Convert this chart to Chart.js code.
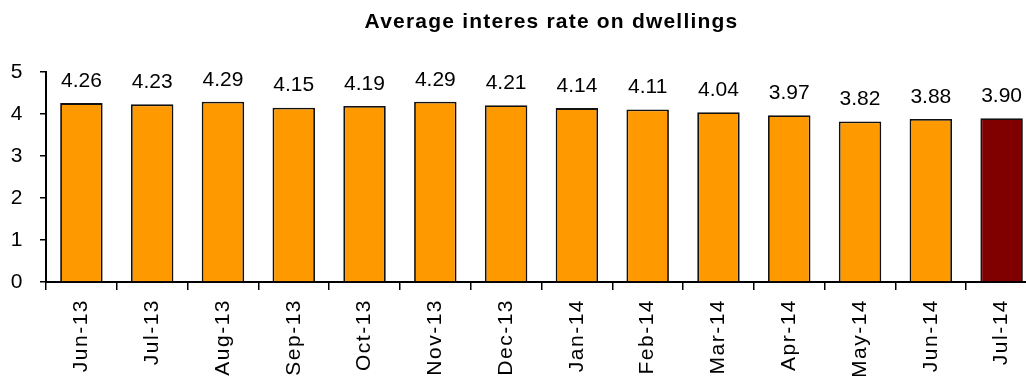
<!DOCTYPE html>
<html>
<head>
<meta charset="utf-8">
<script src="https://cdn.jsdelivr.net/npm/chart.js@4.4.1/dist/chart.umd.min.js"></script>
<style>
  html, body { margin: 0; padding: 0; background: #fff; overflow: hidden; width: 1026px; height: 376px; }
  #wrap { position: relative; width: 1040px; height: 376px; }
</style>
</head>
<body>
<div id="wrap"><canvas id="c"></canvas></div>
<script>
// Monthly average interest rate on dwelling loans (%)
const months = ['Jun-13', 'Jul-13', 'Aug-13', 'Sep-13', 'Oct-13', 'Nov-13', 'Dec-13',
                'Jan-14', 'Feb-14', 'Mar-14', 'Apr-14', 'May-14', 'Jun-14', 'Jul-14'];
const rates = [4.26, 4.23, 4.29, 4.15, 4.19, 4.29, 4.21, 4.14, 4.11, 4.04, 3.97, 3.82, 3.88, 3.90];
const yTicks = [0, 1, 2, 3, 4, 5];
const chartTitle = 'Average interes rate on dwellings';

const FONT = '"Liberation Sans", Arial, sans-serif';
const barColor = '#FF9900';
const latestColor = '#800000';

// Wider glyph spacing for the axis tick labels
const textSpacing = {
  id: 'textSpacing',
  beforeUpdate(chart) { chart.ctx.letterSpacing = '1.5px'; },
  beforeDraw(chart) { chart.ctx.letterSpacing = '1.5px'; }
};

// Title above the plot
const titleText = {
  id: 'titleText',
  afterDraw(chart) {
    const ctx = chart.ctx;
    const a = chart.chartArea;
    ctx.save();
    ctx.letterSpacing = '1.2px';
    ctx.font = 'bold 21px ' + FONT;
    ctx.fillStyle = '#000';
    ctx.textAlign = 'center';
    ctx.textBaseline = 'alphabetic';
    ctx.fillText(chartTitle, (a.left + a.right) / 2 + 10, 28);
    ctx.restore();
  }
};

// Value labels above each bar
const valueLabels = {
  id: 'valueLabels',
  afterDatasetsDraw(chart) {
    const ctx = chart.ctx;
    const meta = chart.getDatasetMeta(0);
    ctx.save();
    ctx.letterSpacing = '0px';
    ctx.font = '21px ' + FONT;
    ctx.fillStyle = '#000';
    ctx.textAlign = 'center';
    ctx.textBaseline = 'middle';
    meta.data.forEach((bar, i) => {
      ctx.fillText(rates[i].toFixed(2), bar.x, bar.y - 22);
    });
    ctx.restore();
  }
};

new Chart(document.getElementById('c'), {
  type: 'bar',
  data: {
    labels: months,
    datasets: [{
      data: rates,
      backgroundColor: rates.map((_, i) => i === rates.length - 1 ? latestColor : barColor),
      borderColor: '#111',
      borderWidth: 1.8,
      barPercentage: 0.6,
      categoryPercentage: 1.0
    }]
  },
  options: {
    responsive: true,
    maintainAspectRatio: false,
    animation: false,
    layout: { padding: { top: 72, right: 3, left: 0, bottom: 0 } },
    plugins: {
      legend: { display: false },
      title: { display: false },
      tooltip: { enabled: false }
    },
    scales: {
      x: {
        grid: { display: true, drawOnChartArea: false, drawTicks: true, tickLength: 8, color: '#000', lineWidth: 1.5, offset: true },
        border: { display: true, color: '#000', width: 2 },
        ticks: { minRotation: 90, maxRotation: 90, autoSkip: false, padding: 9, color: '#000', font: { size: 21, family: FONT } },
        afterFit(scale) { scale.height = 94; }
      },
      y: {
        min: 0,
        max: 5,
        grid: { display: true, drawOnChartArea: false, drawTicks: true, tickLength: 6, color: '#000', lineWidth: 1.5 },
        border: { display: true, color: '#000', width: 2 },
        ticks: { padding: 16, color: '#000', font: { size: 21, family: FONT } },
        afterBuildTicks(scale) { scale.ticks = yTicks.map(v => ({ value: v })); },
        afterFit(scale) { scale.width = 46; }
      }
    }
  },
  plugins: [textSpacing, titleText, valueLabels]
});
</script>
</body>
</html>
